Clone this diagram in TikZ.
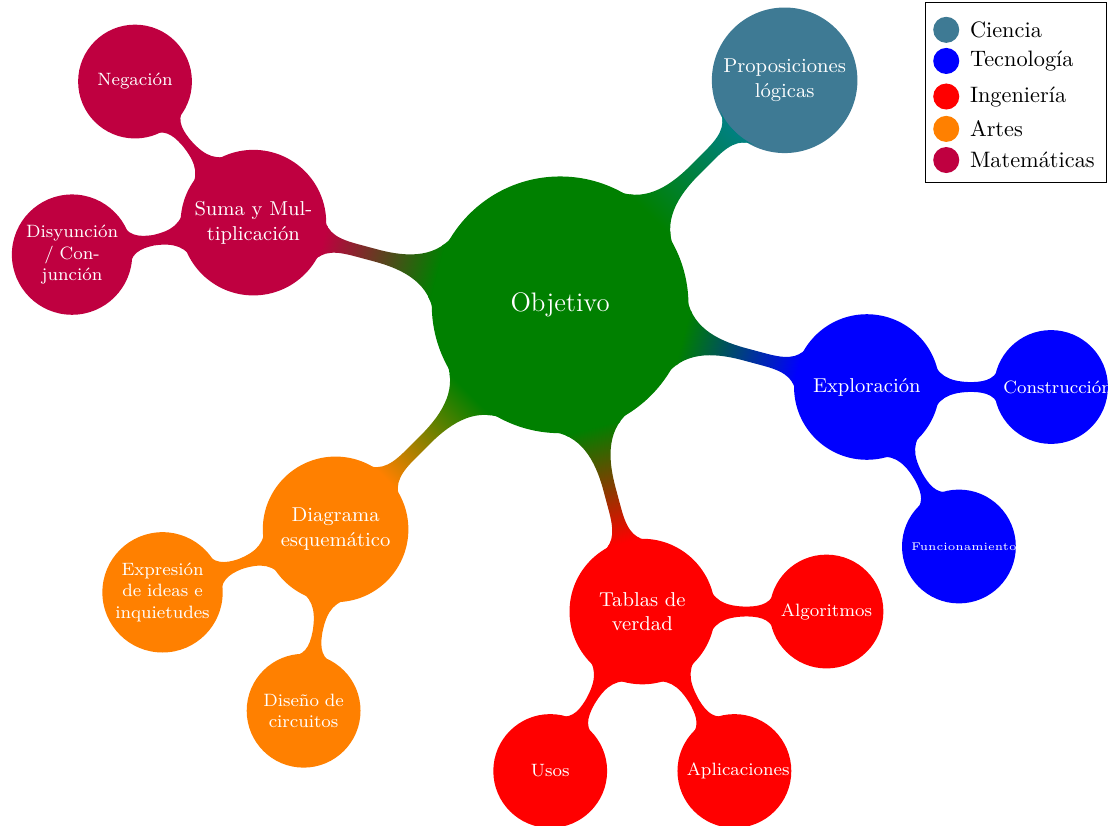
\documentclass[tikz,border=0pt]{standalone}
\usepackage{tikz}
\usetikzlibrary{mindmap}
\usetikzlibrary{positioning}

\definecolor{ciencia}{RGB}{62,122,148}

\begin{document}
\begin{tikzpicture}[
  legenddot/.style={circle, minimum size=0.41cm, inner sep=0pt},
  legendtext/.style={anchor=west, inner sep=1pt}]
\useasboundingbox (-8.82,-8.20) rectangle (8.69,4.80);
\begin{scope}[mindmap, concept color=green!50!black, text=white,
  level 1 concept/.append style={font=\small},
  level 2 concept/.append style={font=\footnotesize}]
\node[concept, font=\large] (obj) at (0,0) {Objetivo}
  [clockwise from=45]
  child[concept color=teal] { node[concept, fill=ciencia, draw=ciencia] (prop) {Proposiciones lógicas} }
  child[concept color=blue] { node[concept] (expl) {Exploración}
    [clockwise from=0]
    child { node[concept] (cons) {Construcción} }
    child { node[concept, font=\tiny] (func) {Funcionamiento} } }
  child[concept color=red] { node[concept] (tab) {Tablas de verdad}
    [clockwise from=0]
    child { node[concept] (alg) {Algoritmos} }
    child { node[concept] (apl) {Aplicaciones} }
    child { node[concept] (usos) {Usos} } }
  child[concept color=orange] { node[concept] (diag) {Diagrama esquemático}
    [clockwise from=-100]
    child { node[concept] (dis) {Diseño de circuitos} }
    child { node[concept] (expr) {Expresión de ideas e inquietudes} } }
  child[concept color=purple] { node[concept] (suma) {Suma y Multiplicación}
    [clockwise from=190]
    child { node[concept] (disy) {Disyunción / Conjunción} }
    child { node[concept] (neg) {Negación} } };
\end{scope}

% leyenda
\node[legenddot, fill=ciencia] (dc) at (6.08,4.33) {};
\node[legenddot, fill=blue] (dt) at (6.08,3.84) {};
\node[legenddot, fill=red] (di) at (6.08,3.28) {};
\node[legenddot, fill=orange] (da) at (6.08,2.77) {};
\node[legenddot, fill=purple] (dm) at (6.08,2.28) {};
\node[legendtext, right=0.12cm of dc] (tc) {Ciencia};
\node[legendtext, right=0.12cm of dt] (tt) {Tecnología};
\node[legendtext, right=0.12cm of di] (ti) {Ingeniería};
\node[legendtext, right=0.12cm of da] (ta) {Artes};
\node[legendtext, right=0.12cm of dm] (tm) {Matemáticas};
\draw (5.76,1.92) rectangle (8.61,4.76);
\end{tikzpicture}
\end{document}
